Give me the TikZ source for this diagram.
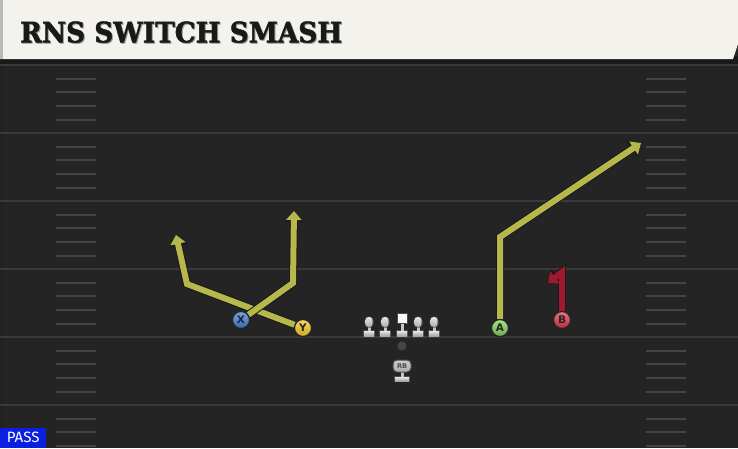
\documentclass[tikz,border=0pt]{standalone}
\usepackage{fontspec}
\usepackage{graphicx}
\usetikzlibrary{arrows.meta}
\newfontfamily\titlefont{DejaVu Serif Condensed}[BoldFont={* Bold}, BoldFeatures={FakeBold=1.5}]
\newfontfamily\letterfont{DejaVu Sans}[BoldFont={* Bold}]
\newfontfamily\passfont{Fira Sans}
\definecolor{field}{HTML}{242424}
\definecolor{yardc}{HTML}{3A3A3A}
\definecolor{hashc}{HTML}{444444}
\definecolor{banner}{HTML}{F4F2EC}
\definecolor{routec}{HTML}{B7B84C}
\definecolor{redroute}{HTML}{A0182F}
\definecolor{xblue}{HTML}{3F7FDB}
\definecolor{ygold}{HTML}{F2C526}
\definecolor{agreen}{HTML}{7FD957}
\definecolor{bred}{HTML}{E2384C}
\definecolor{passblue}{HTML}{0A1FE0}
\tikzset{
  player/.style={circle, minimum size=17pt, inner sep=0pt, draw=black!85, line width=1.2pt,
    font=\letterfont\bfseries\fontsize{10.5}{10.5}\selectfont, text=black!85},
  routeline/.style={line width=6pt, draw=#1, line join=miter, miter limit=3,
    -{Triangle[width=15pt,length=9pt]},
    preaction={draw=black!90, line width=8pt, -{Triangle[width=18pt,length=11pt]}}},
  yardline/.style={draw=yardc, line width=2pt},
  hashline/.style={draw=hashc, line width=1.6pt},
  lineman/.pic={
    \fill[black!70] (-6,0.5) rectangle (6,-6);
    \fill[top color=gray!20, bottom color=gray!70] (-5,0) rectangle (5,-5);
    \fill[gray!45] (-1.5,-5) rectangle (1.5,-9.5);
    \fill[black!70, rounded corners=3.5pt] (-4.5,-8.5) rectangle (4.5,-19.5);
    \fill[top color=gray!20, bottom color=gray!65, rounded corners=3pt] (-3.5,-9) rectangle (3.5,-19);
  },
  centerman/.pic={
    \fill[black!70] (-6,0.5) rectangle (6,-6);
    \fill[top color=gray!20, bottom color=gray!70] (-5,0) rectangle (5,-5);
    \fill[gray!45] (-1.5,-5) rectangle (1.5,-13);
    \fill[black!70] (-5.5,-12.5) rectangle (5.5,-23.5);
    \fill[white!95!gray] (-4.5,-13.5) rectangle (4.5,-22.5);
  }
}
\begin{document}
\begin{tikzpicture}[x=1pt, y=-1pt]
\useasboundingbox (0,0) rectangle (738,448);
% field
\fill[field] (0,0) rectangle (738,448);
\fill[black!8!field] (0,59) rectangle (3,448);
% yard lines
\foreach \yy in {65,133,201,269,337,405}
  \draw[yardline] (0,\yy) -- (738,\yy);
% hash marks
\foreach \yy in {79,92,106,120,147,160,174,188,215,228,242,256,283,296,310,324,351,364,378,392,419,432,446} {
  \draw[hashline] (56,\yy) -- (96,\yy);
  \draw[hashline] (646,\yy) -- (686,\yy);
}
% banner
\fill[black!90] (0,56) rectangle (738,64);
\fill[banner] (0,0) -- (738,0) -- (738,44) -- (733,59) -- (0,59) -- cycle;
\fill[gray!55] (0,0) rectangle (3,59);
\node[anchor=south west, inner sep=0pt, text=black!40] (titleshadow) at (21,44) {\resizebox{322pt}{21pt}{\titlefont\bfseries RNS SWITCH SMASH}};
\node[anchor=south west, inner sep=0pt, text=black!90] (title) at (20,43) {\resizebox{322pt}{21pt}{\titlefont\bfseries RNS SWITCH SMASH}};
% offensive line
\pic at (369,336) {lineman};
\pic at (385,336) {lineman};
\pic at (402,336) {centerman};
\pic at (418,336) {lineman};
\pic at (434,336) {lineman};
% ball
\node[circle, fill=gray!55!black, minimum size=9pt, inner sep=0pt] (ball) at (402,346) {};
% running back
\fill[black!70] (394,382) rectangle (410,376);
\fill[top color=gray!20, bottom color=gray!70] (395,381) rectangle (409,377);
\fill[gray!45] (400.5,377) rectangle (403.5,372);
\node[draw=black!70, line width=1pt, top color=gray!40, bottom color=gray!65, rounded corners=4pt, minimum width=18pt, minimum height=12pt, inner sep=0pt,
  font=\letterfont\bfseries\fontsize{6.5}{6.5}\selectfont, text=black!70] (RB) at (402,366) {RB};
% players
\node[player, top color=xblue!70!white, bottom color=xblue!80!black] (X) at (241,320) {X};
\node[player, top color=ygold!70!white, bottom color=ygold!85!black] (Y) at (303,328) {Y};
\node[player, top color=agreen!70!white, bottom color=agreen!80!black] (A) at (500,328) {A};
\node[player, top color=bred!70!white, bottom color=bred!80!black] (B) at (562,320) {B};
% route points
\coordinate (x1) at (293,283);
\coordinate (x2) at (294,211);
\coordinate (y1) at (187,284);
\coordinate (y2) at (176,235);
\coordinate (a1) at (500,237);
\coordinate (a2) at (641,143);
\coordinate (b1) at (562,272);
\coordinate (b2) at (548,283);
% routes
\draw[routeline=routec] (Y) -- (y1) -- (y2);
\draw[routeline=routec] (X) -- (x1) -- (x2);
\draw[routeline=routec] (A) -- (a1) -- (a2);
\draw[routeline=redroute] (B) -- (b1) -- (b2);
% redraw players on top
\node[player, top color=xblue!70!white, bottom color=xblue!80!black] at (X) {X};
\node[player, top color=ygold!70!white, bottom color=ygold!85!black] at (Y) {Y};
\node[player, top color=agreen!70!white, bottom color=agreen!80!black] at (A) {A};
\node[player, top color=bred!70!white, bottom color=bred!80!black] at (B) {B};
% pass label
\node[fill=passblue, anchor=south west, minimum width=46pt, minimum height=20pt, inner sep=0pt,
  text=white, font=\passfont\fontsize{15}{15}\selectfont] (pass) at (0,448) {PASS};
\end{tikzpicture}
\end{document}
